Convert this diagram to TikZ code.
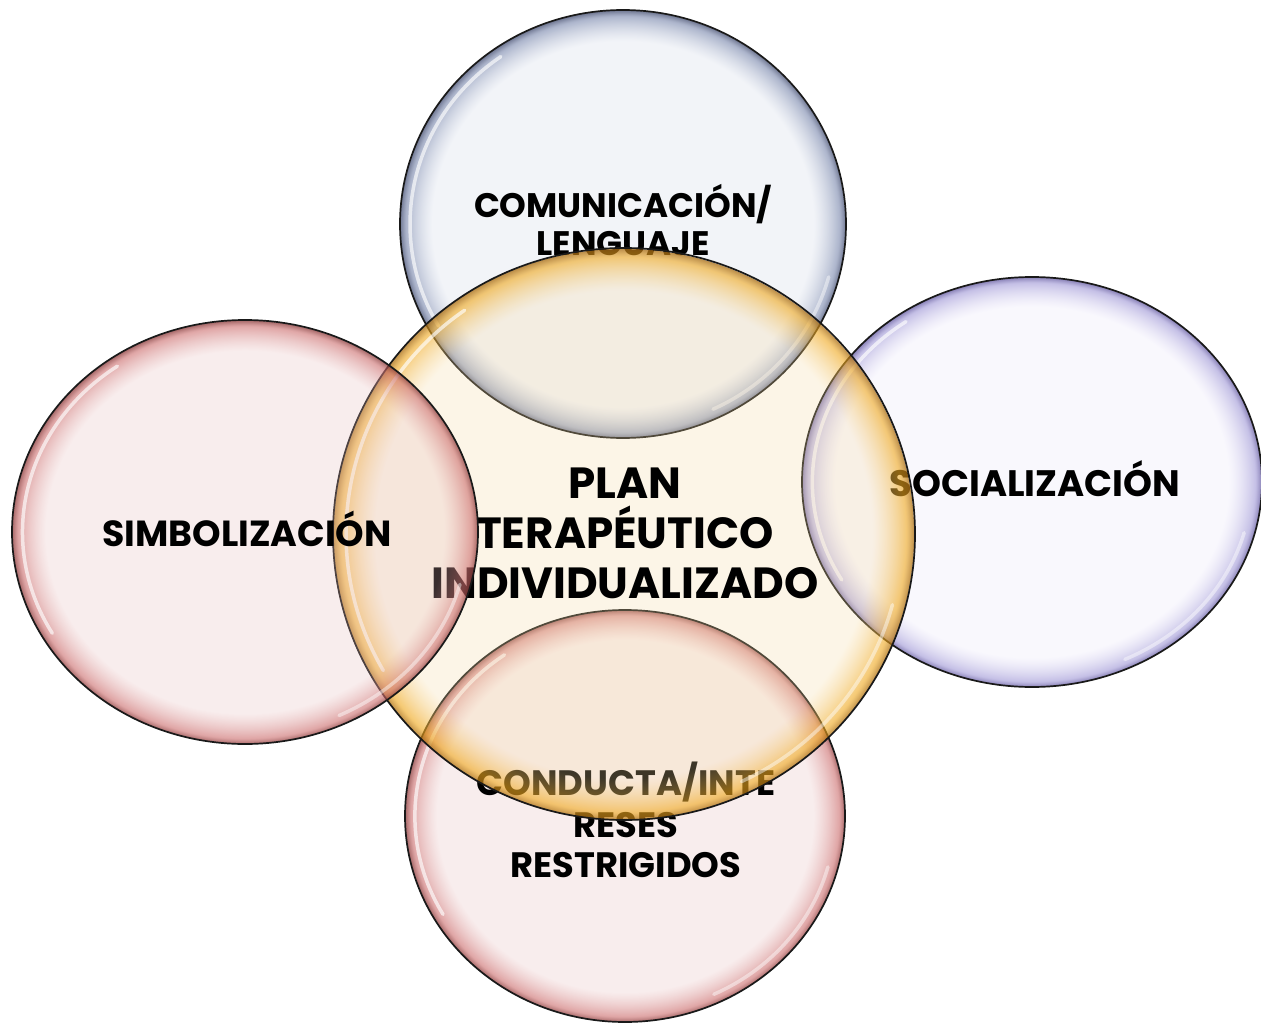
\documentclass[tikz,border=0pt]{standalone}
\usepackage{fontspec}
\setmainfont{Poppins}
\usetikzlibrary{fadings}
% interior / rim / edge colours of each bubble
\definecolor{inC}{RGB}{247,218,160}\definecolor{rimC}{RGB}{240,168,28}\definecolor{edgeC}{RGB}{170,110,20}
\definecolor{inT}{RGB}{207,215,231}\definecolor{rimT}{RGB}{120,134,172}\definecolor{edgeT}{RGB}{70,80,115}
\definecolor{inR}{RGB}{235,231,251}\definecolor{rimR}{RGB}{160,152,215}\definecolor{edgeR}{RGB}{100,90,160}
\definecolor{inP}{RGB}{231,187,187}\definecolor{rimP}{RGB}{205,110,110}\definecolor{edgeP}{RGB}{140,60,60}
\pgfdeclareradialshading{shC}{\pgfpointorigin}{color(0bp)=(inC); color(21.3bp)=(inC); color(24.3bp)=(rimC); color(25bp)=(edgeC); color(50bp)=(edgeC)}
\pgfdeclareradialshading{shT}{\pgfpointorigin}{color(0bp)=(inT); color(21.3bp)=(inT); color(24.3bp)=(rimT); color(25bp)=(edgeT); color(50bp)=(edgeT)}
\pgfdeclareradialshading{shR}{\pgfpointorigin}{color(0bp)=(inR); color(21.3bp)=(inR); color(24.3bp)=(rimR); color(25bp)=(edgeR); color(50bp)=(edgeR)}
\pgfdeclareradialshading{shP}{\pgfpointorigin}{color(0bp)=(inP); color(21.3bp)=(inP); color(24.3bp)=(rimP); color(25bp)=(edgeP); color(50bp)=(edgeP)}
\pgfdeclareradialshading{bubfadesh}{\pgfpointorigin}{color(0bp)=(pgftransparent!75); color(21.3bp)=(pgftransparent!75); color(24.3bp)=(pgftransparent!38); color(25bp)=(pgftransparent!20); color(50bp)=(pgftransparent!20)}
\pgfdeclarefading{bubfade}{\pgfuseshading{bubfadesh}}
\tikzset{
  bubble/.style={shading=#1, path fading=bubfade},
  outline/.style={draw=black!90, line width=1.7pt},
  shine/.style={draw=white, line width=3.5pt, line cap=round, draw opacity=0.65},
  lbl/.style={anchor=base, inner sep=0pt, font=\bfseries\fontsize{#1}{#1}\selectfont},
  lbl/.default=34,
}
\newcommand{\bub}[5]{% #1 center, #2 rx, #3 ry, #4 shading
  \shade[bubble=#4] #1 ellipse [x radius=#2, y radius=#3];
  \draw[outline] #1 ellipse [x radius=#2, y radius=#3];
  \draw[shine] #1 ++(150:{#2*0.955} and {#3*0.955}) arc[start angle=150, end angle=235, x radius={#2*0.955}, y radius={#3*0.955}];
  \draw[shine, draw opacity=0.45] #1 ++(15:{#2*0.955} and {#3*0.955}) arc[start angle=15, end angle=65, x radius={#2*0.955}, y radius={#3*0.955}];
}
\begin{document}
\begin{tikzpicture}[x=1pt,y=-1pt]
\fill[white] (0,0) rectangle (1261,1025);
\useasboundingbox (0,0) rectangle (1261,1025);
% top
\bub{(623,224)}{223}{214}{shT}{}
\node[lbl=34] (t1) at (623,217) {COMUNICACIÓN/};
\node[lbl=34] (t2) at (623,255) {LENGUAJE};
% right
\bub{(1032,482)}{230}{205}{shR}{}
\node[lbl=36.8] (r1) at (1035,496) {SOCIALIZACIÓN};
% bottom
\bub{(625,816)}{220}{206}{shP}{}
\node[lbl=35.3] (b1) at (626,795) {CONDUCTA/INTE};
\node[lbl=35.3] (b2) at (626,837) {RESES};
\node[lbl=35.3] (b3) at (626,877) {RESTRIGIDOS};
% centre
\bub{(624,534)}{291}{286}{shC}{}
\node[lbl=43.6] (c1) at (625,498) {PLAN};
\node[lbl=43.6] (c2) at (625,548) {TERAPÉUTICO};
\node[lbl=43.6] (c3) at (625,598) {INDIVIDUALIZADO};
% left
\bub{(245,532)}{233}{212}{shP}{}
\node[lbl=36.3] (l1) at (247,546) {SIMBOLIZACIÓN};
\end{tikzpicture}
\end{document}
